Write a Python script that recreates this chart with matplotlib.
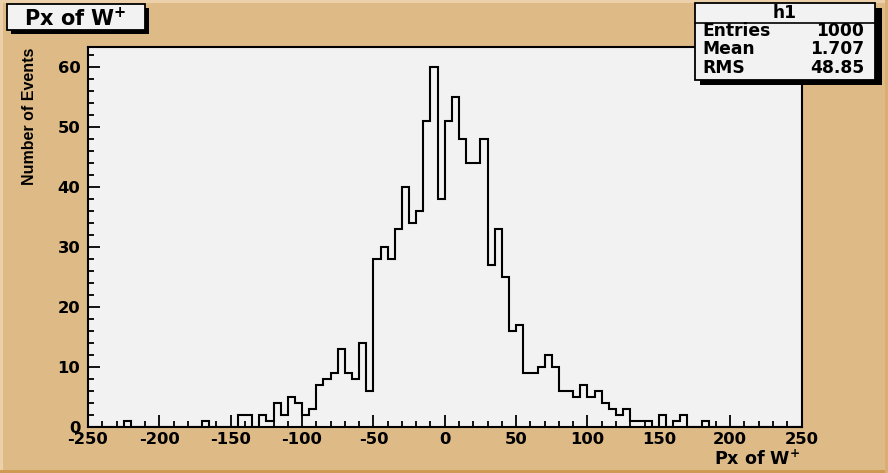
import matplotlib
matplotlib.use("Agg")
import matplotlib.pyplot as plt
import numpy as np
from matplotlib.patches import Rectangle

# ---------------- data ----------------
bin_edges = np.linspace(-250, 250, 101)
counts = [0, 0, 0, 0, 0, 1, 0, 0, 0, 0,
          0, 0, 0, 0, 0, 0, 1, 0, 0, 0,
          0, 2, 2, 0, 2, 1, 4, 2, 5, 4,
          2, 3, 7, 8, 9, 13, 9, 8, 14, 6,
          28, 30, 28, 33, 40, 34, 36, 51, 60, 38,
          51, 55, 48, 44, 44, 48, 27, 33, 25, 16,
          17, 9, 9, 10, 12, 10, 6, 6, 5, 7,
          5, 6, 4, 3, 2, 3, 1, 1, 1, 0,
          2, 0, 1, 2, 0, 0, 1, 0, 0, 0,
          0, 0, 0, 0, 0, 0, 0, 0, 0, 0]
x_ticks = [-250, -200, -150, -100, -50, 0, 50, 100, 150, 200, 250]
y_ticks = [0, 10, 20, 30, 40, 50, 60]
hist_name = "h1"
stat_labels = ["Entries", "Mean", "RMS"]
stat_values = ["1000", "1.707", "48.85"]
title_text = "Px of W$^{\\mathbf{+}}$"
xlabel_text = "Px of W$^{\\mathbf{+}}$"
ylabel_text = "Number of Events"

# ---------------- style ----------------
W, H = 888, 473
plt.rcParams['mathtext.fontset'] = 'dejavusans'
BG = "#DEBA87"
PANEL = "#F2F2F2"
FONT = ['DejaVu Sans']

fig = plt.figure(figsize=(W / 100, H / 100), dpi=100)
fig.patch.set_facecolor(BG)

def fx(px):
    return px / W

def fy(py):
    return 1 - py / H

def frect(x0, y0, x1, y1, **kw):
    r = Rectangle((fx(x0), fy(y1)), fx(x1) - fx(x0), fy(y0) - fy(y1),
                  transform=fig.transFigure, **kw)
    fig.add_artist(r)
    return r

# figure bevel border
frect(0, 0, W, 3, facecolor="#EBD0AA", edgecolor="none", zorder=0)
frect(0, 0, 3, H, facecolor="#EBD0AA", edgecolor="none", zorder=0)
frect(0, H - 3, W, H, facecolor="#CF9A52", edgecolor="none", zorder=0)
frect(W - 3, 0, W, H, facecolor="#D9AE75", edgecolor="none", zorder=0)

# axes
L, R, T, B = 88, 801.5, 47.5, 427
ax = fig.add_axes([fx(L), fy(B), fx(R) - fx(L), fy(T) - fy(B)])
ax.set_facecolor(PANEL)
ax.stairs(counts, bin_edges, color="black", linewidth=1.5, baseline=0)
ax.set_xlim(-250, 250)
ax.set_ylim(0, 63.2)
for s in ax.spines.values():
    s.set_linewidth(1.5)
    s.set_color("black")

ax.set_xticks(x_ticks)
ax.set_yticks(y_ticks)
ax.set_xticks(np.arange(-250, 251, 10), minor=True)
ax.set_yticks(np.arange(0, 63, 2), minor=True)
ax.tick_params(axis='both', which='both', direction='in', top=False, right=False,
               width=1.3, color='black')
ax.tick_params(axis='both', which='major', length=8.5)
ax.tick_params(axis='both', which='minor', length=4.5)
ax.tick_params(axis='x', which='major', pad=3.5)
ax.tick_params(axis='y', which='major', pad=5.5)
ax.set_xticklabels([str(v) for v in x_ticks], fontsize=11.8, fontweight='bold', family=FONT)
ax.set_yticklabels([str(v) for v in y_ticks], fontsize=11.8, fontweight='bold', family=FONT)

# axis titles
fig.text(fx(800), fy(465), xlabel_text, ha='right', va='baseline',
         fontsize=12.6, fontweight='bold', family=FONT)
fig.text(fx(29), fy(48), ylabel_text, ha='center', va='top', rotation=90,
         fontsize=11.5, fontweight='bold', family=['Liberation Sans Narrow', 'Liberation Sans', 'DejaVu Sans'])

# title box with shadow
frect(11, 8, 149, 34, facecolor="black", edgecolor="none", zorder=5)
frect(7, 4, 145, 30, facecolor="#F2F2F2", edgecolor="black", linewidth=1.3, zorder=6)
fig.text(fx(75), fy(18), title_text, ha='center', va='center',
         fontsize=15, fontweight='bold', family=FONT, zorder=7)

# stats box with shadow
frect(700, 8, 882, 85, facecolor="black", edgecolor="none", zorder=5)
frect(695, 3, 875, 80, facecolor="#F2F2F2", edgecolor="black", linewidth=1.3, zorder=6)
fig.add_artist(plt.Line2D([fx(695), fx(875)], [fy(22.7), fy(22.7)],
                          transform=fig.transFigure, color="black", linewidth=1.2, zorder=7))
fig.text(fx(785), fy(13.5), hist_name, ha='center', va='center',
         fontsize=12.3, fontweight='bold', family=FONT, zorder=7)
row_y = [31, 49.5, 68]
for lab, val, yy in zip(stat_labels, stat_values, row_y):
    fig.text(fx(702), fy(yy), lab, ha='left', va='center',
             fontsize=12.3, fontweight='bold', family=FONT, zorder=7)
    fig.text(fx(864), fy(yy), val, ha='right', va='center',
             fontsize=12.3, fontweight='bold', family=FONT, zorder=7)

fig.savefig("out.png", dpi=100, facecolor=BG)
